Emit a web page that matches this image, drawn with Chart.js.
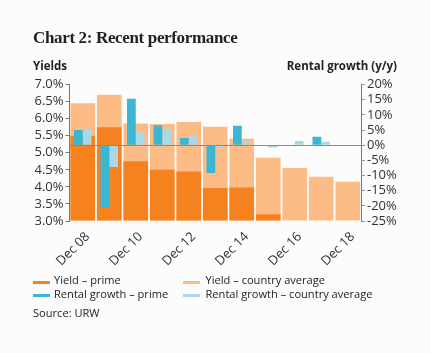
<!DOCTYPE html>
<html lang="en">
<head>
<meta charset="utf-8">
<title>Chart 2: Recent performance</title>
<script src="https://cdn.jsdelivr.net/npm/chart.js@4"></script>
<style>
  body { margin: 0; background: #fcfcfc; }
  #wrap { position: relative; width: 430px; height: 353px; font-family: 'Open Sans', sans-serif; color: #222; }
  #wrap canvas { position: absolute; left: 0; top: 0; }
  .txt { position: absolute; white-space: nowrap; }
  .title { left: 33px; top: 27.5px; font-family: 'Liberation Serif', serif; font-weight: bold; font-size: 17px; letter-spacing: -0.35px; line-height: normal; }
  .axt { top: 58px; font-size: 11.5px; font-weight: bold; line-height: normal; }
  .leg { font-size: 11.1px; line-height: 14px; }
  .sw { position: absolute; width: 17px; height: 3px; }
</style>
</head>
<body>
<div id="wrap">
  <canvas id="myChart" width="430" height="353"></canvas>
  <div class="txt title">Chart 2: Recent performance</div>
  <div class="txt axt" style="left:33px">Yields</div>
  <div class="txt axt" style="right:33px">Rental growth (y/y)</div>

  <div class="sw" style="left:33px;top:281px;background:#f5821f"></div>
  <div class="txt leg" style="left:54px;top:272.5px">Yield – prime</div>
  <div class="sw" style="left:183px;top:281px;background:#fdbb85"></div>
  <div class="txt leg" style="left:205.5px;top:272.5px">Yield – country average</div>
  <div class="sw" style="left:33px;top:293.5px;background:#3bb6d4"></div>
  <div class="txt leg" style="left:54px;top:286.5px">Rental growth – prime</div>
  <div class="sw" style="left:183px;top:293.5px;background:#a9d9e9"></div>
  <div class="txt leg" style="left:205.5px;top:286.5px">Rental growth – country average</div>
  <div class="txt leg" style="left:33px;top:306px">Source: URW</div>
</div>
<script>
// years on the x axis
let labels = ['Dec 08', 'Dec 09', 'Dec 10', 'Dec 11', 'Dec 12', 'Dec 13', 'Dec 14', 'Dec 15', 'Dec 16', 'Dec 17', 'Dec 18'];

// yields, %
let yieldPrime = [5.5, 5.75, 4.75, 4.5, 4.45, 3.97, 3.98, 3.2, null, null, null];
let yieldAvg = [6.45, 6.7, 5.86, 5.84, 5.9, 5.76, 5.41, 4.85, 4.55, 4.3, 4.15];

// rental growth y/y, %
let rentPrime = [5, -20.7, 15.3, 6.6, 2.4, -9.2, 6.4, null, null, 2.8, null];
let rentAvg = [5, -7.2, 4.2, 5.4, 2.9, -0.8, 1.4, -0.8, 1.4, 1.1, null];

// tick settings
let yieldMin = 3, yieldMax = 7, yieldStep = 0.5;
let rentMin = -25, rentMax = 20, rentStep = 5;

Chart.defaults.font.family = "'Open Sans', sans-serif";
Chart.defaults.font.size = 13;
Chart.defaults.color = '#333';

// own bar type so the full-width yield bars don't eat into the
// grouping of the rental growth bars
class OverlapBar extends Chart.BarController {}
OverlapBar.id = 'overlapBar';
OverlapBar.defaults = Chart.BarController.defaults;
Chart.register(OverlapBar);

// gray line at 0% rental growth
const zeroLine = {
    id: 'zeroLine',
    afterDatasetsDraw(chart) {
        let ctx = chart.ctx;
        let area = chart.chartArea;
        let y = Math.round(chart.scales.yR.getPixelForValue(0)) + 0.5;
        ctx.save();
        ctx.strokeStyle = '#8a8a8a';
        ctx.lineWidth = 1;
        ctx.beginPath();
        ctx.moveTo(area.left, y);
        ctx.lineTo(area.right, y);
        ctx.stroke();
        ctx.restore();
    }
};

const ctx = document.getElementById('myChart').getContext('2d');
const myChart = new Chart(ctx, {
    type: 'bar',
    data: {
        labels: labels,
        datasets: [
            { type: 'bar', label: 'Rental growth – prime', data: rentPrime, backgroundColor: '#3bb6d4', yAxisID: 'yR', order: 1, categoryPercentage: 0.66, barPercentage: 1 },
            { type: 'bar', label: 'Rental growth – country average', data: rentAvg, backgroundColor: '#a9d9e9', yAxisID: 'yR', order: 1, categoryPercentage: 0.66, barPercentage: 1 },
            { type: 'overlapBar', label: 'Yield – prime', data: yieldPrime, backgroundColor: '#f5821f', yAxisID: 'y', order: 2, grouped: false, categoryPercentage: 1, barPercentage: 0.93, base: yieldMin },
            { type: 'overlapBar', label: 'Yield – country average', data: yieldAvg, backgroundColor: '#fdbb85', yAxisID: 'y', order: 3, grouped: false, categoryPercentage: 1, barPercentage: 0.93, base: yieldMin }
        ]
    },
    options: {
        responsive: false,
        animation: false,
        layout: { padding: { top: 84.5, left: 0, right: 0, bottom: 82 } },
        plugins: { legend: { display: false }, tooltip: { enabled: false } },
        scales: {
            x: {
                type: 'category',
                offset: true,
                grid: { display: false },
                border: { display: false },
                afterFit: (s) => { s.height = 50; },
                ticks: {
                    autoSkip: false,
                    minRotation: 45,
                    maxRotation: 45,
                    padding: 0,
                    labelOffset: 5,
                    callback: function (value, index) {
                        return index % 2 === 0 ? this.getLabelForValue(value) : '';
                    }
                }
            },
            y: {
                position: 'left',
                min: yieldMin,
                max: yieldMax,
                afterFit: (s) => { s.width = 69.5; },
                border: { display: true, color: '#777' },
                grid: { drawOnChartArea: false, drawTicks: true, tickLength: 4, color: '#777' },
                ticks: { autoSkip: false, stepSize: yieldStep, padding: 2, callback: (v) => v.toFixed(1) + '%' }
            },
            yR: {
                position: 'right',
                min: rentMin,
                max: rentMax,
                afterFit: (s) => { s.width = 69; },
                border: { display: true, color: '#777' },
                grid: { drawOnChartArea: false, drawTicks: true, tickLength: 4, color: '#999' },
                ticks: { autoSkip: false, stepSize: rentStep, padding: 2, callback: (v) => v + '%' }
            }
        }
    },
    plugins: [zeroLine]
});
</script>
</body>
</html>
